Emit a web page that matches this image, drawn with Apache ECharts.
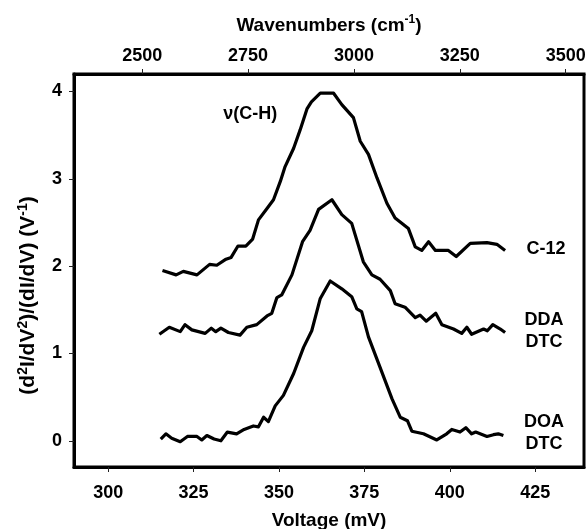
<!DOCTYPE html>
<html>
<head>
<meta charset="utf-8">
<script src="https://cdn.jsdelivr.net/npm/echarts@6/dist/echarts.min.js"></script>
<style>
  html, body { margin: 0; padding: 0; background: #fff; }
  #chart { width: 586px; height: 529px; }
</style>
</head>
<body>
<div id="chart"></div>
<script>
// bottom axis ticks (mV) and top axis ticks (cm-1)
const voltTicks = [300, 325, 350, 375, 400, 425];
const waveTicks = [2500, 2750, 3000, 3250, 3500];
const valTicks = [0, 1, 2, 3, 4];

// C-12 trace
const c12Volt = [315.9, 319.9, 322.0, 326.0, 329.7, 331.8, 334.5, 336.0, 338.0, 340.3, 342.3, 344.0, 346.5, 348.4,
  350.4, 351.8, 354.3, 356.2, 358.2, 359.5, 362.1, 366.0, 368.4, 371.8, 373.8, 376.2, 378.7, 381.6, 384.0,
  387.9, 389.9, 391.8, 393.8, 395.8, 399.6, 401.9, 406.0, 410.9, 413.8, 416.2];
const c12Val = [1.95, 1.90, 1.94, 1.90, 2.02, 2.01, 2.08, 2.10, 2.23, 2.23, 2.31, 2.53, 2.66, 2.76,
  2.97, 3.14, 3.35, 3.56, 3.80, 3.88, 3.98, 3.98, 3.85, 3.70, 3.43, 3.28, 3.01, 2.72, 2.55,
  2.43, 2.22, 2.18, 2.28, 2.18, 2.18, 2.11, 2.26, 2.27, 2.25, 2.18];

// DDA DTC trace
const ddaVolt = [315.0, 317.9, 321.1, 322.5, 324.5, 328.4, 330.2, 331.5, 333.0, 335.2, 338.6, 340.6, 343.5, 346.5,
  347.9, 349.4, 350.8, 353.8, 356.9, 359.1, 361.6, 365.5, 368.4, 371.3, 374.7, 377.2, 379.6, 382.6, 384.0,
  386.9, 389.9, 391.3, 393.1, 395.9, 397.7, 401.1, 403.5, 405.0, 406.4, 409.9, 411.0, 412.6, 414.8, 416.2];
const ddaVal = [1.22, 1.30, 1.25, 1.33, 1.27, 1.23, 1.29, 1.25, 1.29, 1.24, 1.21, 1.30, 1.33, 1.43,
  1.46, 1.64, 1.67, 1.90, 2.28, 2.41, 2.65, 2.76, 2.59, 2.49, 2.05, 1.90, 1.85, 1.72, 1.57,
  1.53, 1.41, 1.44, 1.37, 1.46, 1.33, 1.28, 1.23, 1.30, 1.22, 1.28, 1.26, 1.33, 1.28, 1.24];

// DOA DTC trace
const doaVolt = [315.4, 316.9, 318.6, 321.1, 323.2, 326.0, 327.4, 328.9, 331.0, 333.0, 334.9, 337.6, 339.8, 342.5,
  344.0, 345.5, 346.9, 348.9, 351.3, 354.3, 357.2, 359.6, 362.1, 365.0, 368.4, 371.3, 372.8, 374.2, 376.2,
  379.6, 383.1, 385.5, 387.6, 388.9, 392.3, 396.2, 399.1, 400.6, 403.0, 404.7, 406.4, 407.6, 410.9, 412.8,
  414.2, 415.7];
const doaVal = [0.02, 0.08, 0.03, -0.01, 0.05, 0.05, 0.01, 0.06, 0.02, 0.00, 0.10, 0.08, 0.13, 0.17,
  0.16, 0.27, 0.22, 0.40, 0.52, 0.77, 1.07, 1.26, 1.63, 1.83, 1.74, 1.65, 1.51, 1.48, 1.19,
  0.84, 0.48, 0.27, 0.23, 0.11, 0.08, 0.01, 0.08, 0.13, 0.10, 0.15, 0.08, 0.10, 0.05, 0.07,
  0.08, 0.06];

// 1 mV = 8.0655 cm-1
const MV_TO_WN = 8.0655;
const xMin = 290, xMax = 439.3;

const font = 'Liberation Sans, Arial, sans-serif';

function pairs(xs, ys) {
  return xs.map((x, i) => [x, ys[i]]);
}

function tag(coord, text) {
  return {
    coord: coord,
    symbol: 'circle',
    symbolSize: 0,
    label: {
      show: true, position: 'inside', formatter: text,
      color: '#000', fontFamily: font, fontWeight: 'bold', fontSize: 18, lineHeight: 22
    }
  };
}

function trace(name, data, tags) {
  return {
    name: name,
    type: 'line',
    data: data,
    showSymbol: false,
    symbol: 'none',
    lineStyle: {color: '#000', width: 3.2, join: 'round'},
    animation: false,
    markPoint: {silent: true, animation: false, data: tags}
  };
}

const tickStyle = {show: true, inside: false, length: 5, lineStyle: {color: '#222', width: 1}};
const labelStyle = {color: '#000', fontFamily: font, fontWeight: 'bold', fontSize: 18};

function nameStyle(size, supSize) {
  return {
    color: '#000', fontFamily: font, fontWeight: 'bold', fontSize: size, lineHeight: size + 4,
    rich: {
      sup: {fontFamily: font, fontWeight: 'bold', fontSize: supSize, color: '#000', verticalAlign: 'top', lineHeight: size + 4}
    }
  };
}

let chart = echarts.init(document.getElementById('chart'));
chart.setOption({
  backgroundColor: '#fff',
  animation: false,
  grid: {
    left: 74, right: 2, top: 74, bottom: 62,
    outerBoundsMode: 'none',
    show: true, borderColor: '#000', borderWidth: 3
  },
  xAxis: [{
    type: 'value',
    min: xMin,
    max: xMax,
    name: 'Voltage (mV)',
    nameLocation: 'middle',
    nameGap: 42,
    nameTextStyle: nameStyle(19, 12),
    axisLine: {show: true, onZero: false, lineStyle: {color: '#000', width: 3}},
    axisTick: Object.assign({customValues: voltTicks}, tickStyle),
    axisLabel: Object.assign({customValues: voltTicks, margin: 17}, labelStyle),
    splitLine: {show: false}
  }, {
    type: 'value',
    position: 'top',
    min: xMin * MV_TO_WN,
    max: xMax * MV_TO_WN,
    name: 'Wavenumbers (cm{sup|-1})',
    nameLocation: 'middle',
    nameGap: 37,
    nameTextStyle: nameStyle(19, 12),
    axisLine: {show: true, onZero: false, lineStyle: {color: '#000', width: 3}},
    axisTick: Object.assign({customValues: waveTicks}, tickStyle),
    axisLabel: Object.assign({customValues: waveTicks, margin: 9, formatter: v => String(Math.round(v))}, labelStyle),
    splitLine: {show: false}
  }],
  yAxis: {
    type: 'value',
    min: -0.3,
    max: 4.2,
    name: '(d{sup|2}I/dV{sup|2})/(dI/dV) (V{sup|-1})',
    nameLocation: 'middle',
    nameGap: 30,
    nameRotate: 90,
    nameTextStyle: Object.assign({padding: [0, 50, 0, 0]}, nameStyle(21, 14)),
    axisLine: {show: true, onZero: false, lineStyle: {color: '#000', width: 3}},
    axisTick: Object.assign({customValues: valTicks}, tickStyle),
    axisLabel: Object.assign({customValues: valTicks, margin: 12}, labelStyle),
    splitLine: {show: false}
  },
  series: [
    trace('C-12', pairs(c12Volt, c12Val), [tag([341.6, 3.74], 'ν(C-H)'), tag([428.2, 2.2], 'C-12')]),
    trace('DDA DTC', pairs(ddaVolt, ddaVal), [tag([427.6, 1.26], 'DDA\nDTC')]),
    trace('DOA DTC', pairs(doaVolt, doaVal), [tag([427.6, 0.09], 'DOA\nDTC')])
  ]
});
</script>
</body>
</html>
